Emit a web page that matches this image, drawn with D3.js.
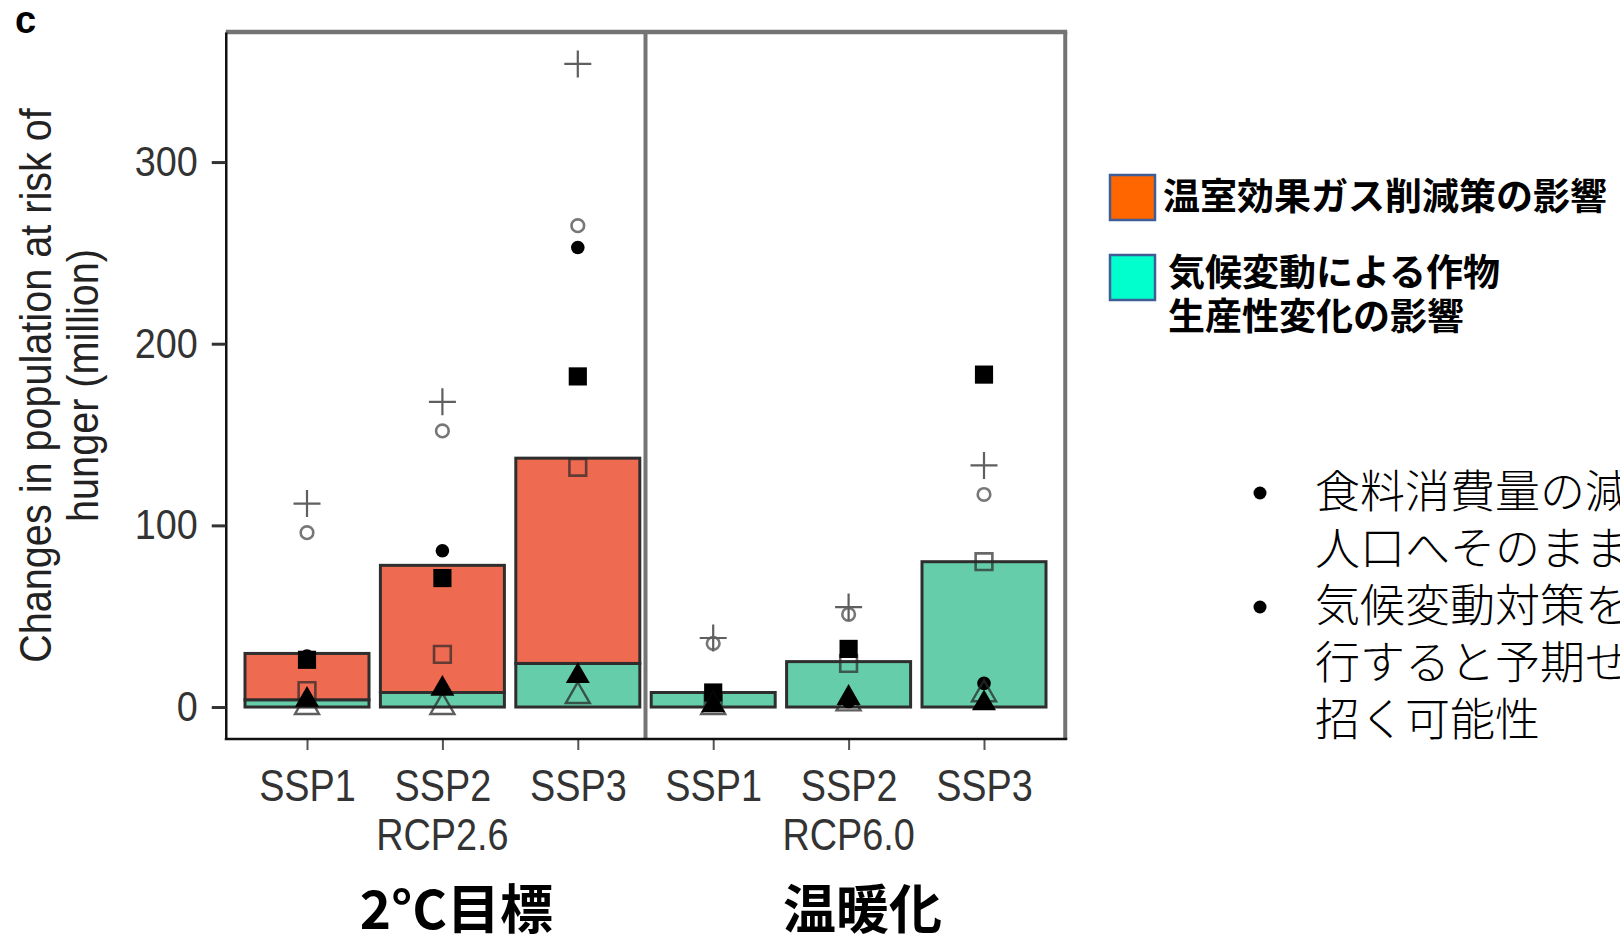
<!DOCTYPE html>
<html>
<head>
<meta charset="utf-8">
<script src="https://cdn.jsdelivr.net/npm/d3@7"></script>
<style>
body { margin: 0; background: #fff; }
svg { display: block; }
</style>
</head>
<body>
<script>
// x axis: two RCP panels, three SSPs each
var rcps = ["RCP2.6", "RCP6.0"];
var ssps = ["SSP1", "SSP2", "SSP3"];
var rcpGoals = ["2°C目標", "温暖化"];

// stacked bars (million people), order: RCP2.6 SSP1..3, RCP6.0 SSP1..3
var cropEffect = [4, 8, 24, 8, 25, 80];
var mitigationEffect = [25.5, 70, 113, 0, 0, 0];

// individual model results, same order
var plusVals = [112, 168, 354, 38, 55, 133];
var openCircleVals = [96, 152, 265, 35, 51, 117];
var openSquareVals = [9, 29, 132, 3, 24, 80];
var filledSquareVals = [26, 71, 182, 8, 32, 183];
var filledCircleVals = [28, 86, 253, 3, 3, 13];
var openTriangleVals = [0, 0, 6, 0, 2, 7];
var filledTriangleVals = [4, 10, 17, 1, 5, 2];

var yTicks = [0, 100, 200, 300];

var legendLabels = [["温室効果ガス削減策の影響"], ["気候変動による作物", "生産性変化の影響"]];
var legendColors = ["#FF6600", "#00FFCC"];

var bulletLines = [["食料消費量の減", "人口へそのまま"], ["気候変動対策を", "行すると予期せ", "招く可能性"]];

var W = 1620, H = 944;
var svg = d3.select("body").append("svg").attr("width", W).attr("height", H);

//categories = rcp x ssp
var cats = [];
rcps.forEach(function (r) { ssps.forEach(function (s) { cats.push(r + "|" + s); }); });

var rows = cats.map(function (c, i) {
    return { cat: c, crop: cropEffect[i], mitigation: mitigationEffect[i] };
});

var x = d3.scalePoint().domain(cats).range([307, 984]);
var y = d3.scaleLinear().domain([-17.6, 371.6]).range([739, 32]);
var step = x.step();
var barW = 124;
var pLeft = x(cats[0]) - 0.6 * step;
var pRight = x(cats[cats.length - 1]) + 0.6 * step;
var pMid = (x(cats[2]) + x(cats[3])) / 2;
var pTop = y.range()[1], pBottom = y.range()[0];

var axisFont = "Liberation Sans, Arimo, Arial, sans-serif";
var jpFont = "Noto Sans CJK JP, Noto Sans CJK SC, sans-serif";

// bars
var stack = d3.stack().keys(["crop", "mitigation"]);
var layers = stack(rows);
var barColors = { crop: "#66CDAA", mitigation: "#EE6A50" };

var gBars = svg.append("g");
layers.forEach(function (layer) {
    gBars.selectAll(null)
        .data(layer.filter(function (d) { return d[1] - d[0] > 0; }))
        .enter().append("rect")
        .attr("x", function (d) { return x(d.data.cat) - barW / 2; })
        .attr("y", function (d) { return y(d[1]); })
        .attr("width", barW)
        .attr("height", function (d) { return y(d[0]) - y(d[1]); })
        .attr("fill", barColors[layer.key])
        .attr("stroke", "#2e2e2e")
        .attr("stroke-width", 3);
});

// points
var plusSym = {
    draw: function (ctx, size) {
        var r = Math.sqrt(size) / 2;
        ctx.moveTo(-r, 0); ctx.lineTo(r, 0);
        ctx.moveTo(0, -r); ctx.lineTo(0, r);
    }
};

var series = [
    { vals: openCircleVals, type: d3.symbolCircle, size: 125, fill: "none", stroke: "#777", sw: 2.6 },
    { vals: plusVals, type: plusSym, size: 27 * 27, fill: "none", stroke: "#5f5f5f", sw: 2.2 },
    { vals: openSquareVals, type: d3.symbolSquare, size: 280, fill: "none", stroke: "rgba(40,40,40,0.7)", sw: 2.6 },
    { vals: filledSquareVals, type: d3.symbolSquare, size: 330, fill: "#000", stroke: "none", sw: 0 },
    { vals: filledCircleVals, type: d3.symbolCircle, size: 145, fill: "#000", stroke: "none", sw: 0 },
    { vals: openTriangleVals, type: d3.symbolTriangle, size: 250, fill: "none", stroke: "rgba(40,40,40,0.75)", sw: 2.4 },
    { vals: filledTriangleVals, type: d3.symbolTriangle, size: 250, fill: "#000", stroke: "none", sw: 0 }
];

var gPts = svg.append("g");
series.forEach(function (s) {
    var sym = d3.symbol().type(s.type).size(s.size);
    gPts.selectAll(null)
        .data(s.vals)
        .enter().append("path")
        .attr("transform", function (d, i) { return "translate(" + x(cats[i]) + "," + y(d) + ")"; })
        .attr("d", sym)
        .attr("fill", s.fill)
        .attr("stroke", s.stroke)
        .attr("stroke-width", s.sw);
});

// panel frame
var frame = svg.append("g").attr("fill", "none");
frame.append("line").attr("x1", pLeft).attr("x2", pRight + 2).attr("y1", pTop).attr("y2", pTop)
    .attr("stroke", "#747474").attr("stroke-width", 4.5);
frame.append("line").attr("x1", pMid).attr("x2", pMid).attr("y1", pTop).attr("y2", pBottom)
    .attr("stroke", "#747474").attr("stroke-width", 4);
frame.append("line").attr("x1", pRight).attr("x2", pRight).attr("y1", pTop).attr("y2", pBottom)
    .attr("stroke", "#747474").attr("stroke-width", 4);

// y axis
var yAxis = svg.append("g")
    .attr("transform", "translate(" + pLeft + ",0)")
    .call(d3.axisLeft(y).tickValues(yTicks).tickSize(14).tickSizeOuter(0));
yAxis.select(".domain").attr("stroke", "#111").attr("stroke-width", 2.5);
yAxis.selectAll(".tick line").attr("stroke", "#333").attr("stroke-width", 3);
yAxis.selectAll(".tick text")
    .attr("x", -28 / 0.9)
    .attr("transform", "scale(0.9,1)")
    .attr("font-family", axisFont).attr("font-size", 42).attr("fill", "#333");

// x axis
var xAxis = svg.append("g")
    .attr("transform", "translate(0," + pBottom + ")")
    .call(d3.axisBottom(x).tickSize(11).tickSizeOuter(0)
        .tickFormat(function (c) { return c.split("|")[1]; }));
xAxis.select(".domain").remove();
xAxis.selectAll(".tick line").attr("stroke", "#555").attr("stroke-width", 2);
xAxis.selectAll(".tick text")
    .attr("y", 31)
    .attr("transform", "scale(0.86,1)")
    .attr("font-family", axisFont).attr("font-size", 44).attr("fill", "#333");
svg.append("line").attr("x1", pLeft - 1).attr("x2", pRight + 2).attr("y1", pBottom).attr("y2", pBottom)
    .attr("stroke", "#111").attr("stroke-width", 2.5);

// RCP labels + goal labels under each panel
rcps.forEach(function (r, i) {
    var cx = x(r + "|" + ssps[1]);
    svg.append("text")
        .attr("transform", "translate(" + cx + ",850) scale(0.86,1)")
        .attr("text-anchor", "middle")
        .attr("font-family", axisFont).attr("font-size", 44).attr("fill", "#333")
        .text(r);
    svg.append("text")
        .attr("x", cx + 14).attr("y", 929)
        .attr("text-anchor", "middle")
        .attr("font-family", jpFont).attr("font-weight", "bold").attr("font-size", 53)
        .attr("fill", "#000")
        .text(rcpGoals[i]);
});

// y title
var yTitle = ["Changes in population at risk of", "hunger (million)"];
yTitle.forEach(function (t, i) {
    svg.append("text")
        .attr("transform", "translate(" + (51 + i * 47) + "," + ((pTop + pBottom) / 2) + ") rotate(-90) scale(0.9,1)")
        .attr("text-anchor", "middle")
        .attr("font-family", axisFont).attr("font-size", 44).attr("fill", "#222")
        .text(t);
});

// panel letter
svg.append("text").attr("x", 15).attr("y", 33)
    .attr("font-family", axisFont).attr("font-weight", "bold").attr("font-size", 38)
    .text("c");

// legend
var legendTop = [175, 255];
legendLabels.forEach(function (lines, i) {
    svg.append("rect")
        .attr("x", 1110).attr("y", legendTop[i]).attr("width", 45).attr("height", 45)
        .attr("fill", legendColors[i]).attr("stroke", "#3F5E96").attr("stroke-width", 2.5);
    lines.forEach(function (t, j) {
        svg.append("text")
            .attr("x", i === 0 ? 1163 : 1168).attr("y", legendTop[i] + 35 + (i === 0 ? 0 : -4) + j * 44)
            .attr("font-family", jpFont).attr("font-weight", "bold").attr("font-size", 37)
            .attr("fill", "#000")
            .text(t);
    });
});

// bullet notes (cut at the right edge as in the slide)
var lineY = 508, lineGap = 57;
bulletLines.forEach(function (group) {
    svg.append("circle").attr("cx", 1260).attr("cy", lineY - 15).attr("r", 6.5).attr("fill", "#000");
    group.forEach(function (t) {
        svg.append("text")
            .attr("x", 1315).attr("y", lineY)
            .attr("font-family", jpFont).attr("font-weight", 300).attr("font-size", 45)
            .attr("fill", "#000")
            .text(t);
        lineY += lineGap;
    });
});
</script>
</body>
</html>
